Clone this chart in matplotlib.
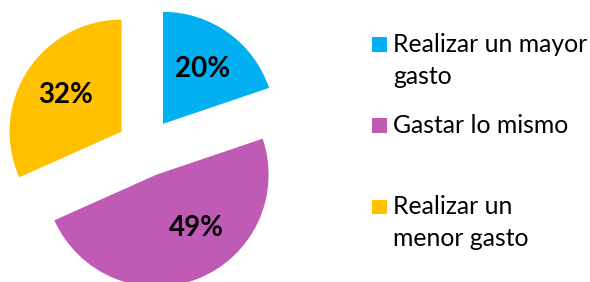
import numpy as np
import matplotlib
matplotlib.use("Agg")
import matplotlib.pyplot as plt
from matplotlib.patches import Rectangle

#%% data

categorias = ["Realizar un mayor\ngasto", "Gastar lo mismo", "Realizar un\nmenor gasto"]
porcentajes = [20, 49, 32]
etiquetas = ["20%", "49%", "32%"]
colores = ["#00B0F0", "#C05BB5", "#FFC000"]

#%% figure

W, H = 590, 282
fig = plt.figure(figsize=(W / 100, H / 100), dpi=100)

# pie axes: 112 px per unit, centre at (146, 147.5) px from top-left
ax = fig.add_axes([0, 0, 292 / W, 1])
ax.axis("off")
wedges, texts, autotexts = ax.pie(porcentajes, colors=colores, startangle=90,
                                  counterclock=False, explode=[0.26] * 3,
                                  autopct="%d", pctdistance=0.6,
                                  wedgeprops=dict(linewidth=0))
for t, s in zip(autotexts, etiquetas):
    t.set_text(s)
    t.set_fontfamily("Lato")
    t.set_fontweight("bold")
    t.set_fontsize(20)
    t.set_color("black")
# the 49% label sits a bit right of the wedge mid-line in the original
x49, y49 = autotexts[1].get_position()
autotexts[1].set_position((x49 + 0.14, y49 + 0.08))
ax.set_xlim(-146 / 112, 146 / 112)
ax.set_ylim(-134.5 / 112, 147.5 / 112)
ax.set_aspect("auto")

#%% legend drawn by hand (uneven spacing in the original)

sq_x, sq = 372, 14.5
base_y = [52, 133, 214]   # baseline of first line of each entry (px from top)
line_gap = 31.5
for cat, col, by in zip(categorias, colores, base_y):
    fig.add_artist(Rectangle((sq_x / W, 1 - by / H), sq / W, sq / H,
                             transform=fig.transFigure, color=col, lw=0))
    for k, line in enumerate(cat.split("\n")):
        fig.text(393 / W, 1 - (by + k * line_gap) / H, line, fontfamily="Lato",
                 fontsize=17.8, va="baseline", ha="left", color="black")

fig.savefig("out.png", dpi=100)
